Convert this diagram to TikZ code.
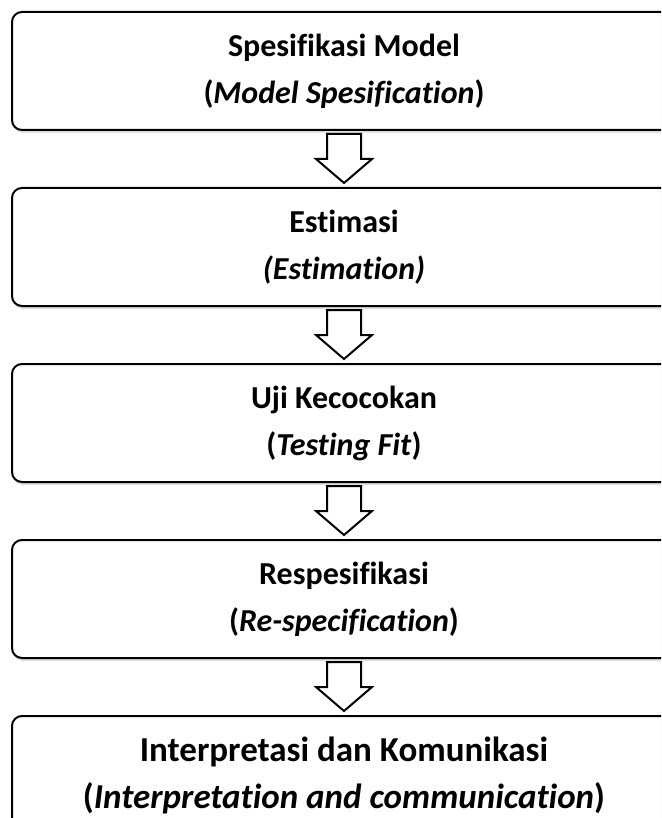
\documentclass[tikz,border=0pt]{standalone}
\usepackage{fontspec}
\setmainfont{Carlito}[Ligatures=NoCommon]
\usetikzlibrary{positioning,shadows}

\begin{document}
\begin{tikzpicture}[x=1pt,y=-1pt,
    stagebox/.style={draw, line width=2pt, rounded corners=10pt, fill=white,
      minimum width=664pt, minimum height=118pt, align=center,
      font=\bfseries\fontsize{32}{47}\selectfont,
      drop shadow={opacity=0.25, shadow xshift=1pt, shadow yshift=-3pt}},
    hollowarrow/.style={draw, line width=2pt, fill=white, line join=miter}]

      \useasboundingbox (0,0) rectangle (661,818);
      \clip (0,0) rectangle (661,818);
      \fill[white] (0,0) rectangle (661,818);

      \node[stagebox] (spec) at (344,71) {Spesifikasi Model\\(\textit{Model Spesification})};
      \node[stagebox, below=56pt of spec] (est) {Estimasi\\\textit{(Estimation)}};
      \node[stagebox, below=56pt of est] (fit) {Uji Kecocokan\\(\textit{Testing Fit})};
      \node[stagebox, below=56pt of fit] (respec) {Respesifikasi\\(\textit{Re-specification})};
      \node[stagebox, below=56pt of respec, font=\bfseries\fontsize{35}{47}\selectfont] (interp)
        {Interpretasi dan Komunikasi\\(\textit{Interpretation and communication})};

      \foreach \a/\b in {spec/est, est/fit, fit/respec, respec/interp}
        \draw[hollowarrow] ([xshift=-17pt,yshift=-3pt]\a.south) -- ++(0,-25pt) -- ++(-11pt,0)
          -- ([yshift=4pt]\b.north) -- ++(28pt,24pt) -- ++(-11pt,0) -- ++(0,25pt) -- cycle;

    \end{tikzpicture}
\end{document}
